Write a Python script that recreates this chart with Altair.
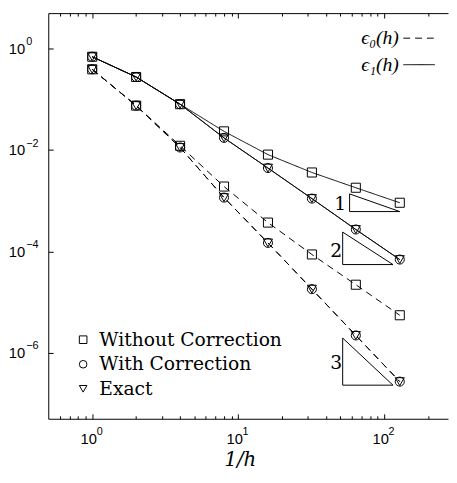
import altair as alt
import pandas as pd

# ---------------- data ----------------
inv_h = [1, 2, 4, 8, 16, 32, 64, 128]

e1_without = [0.69, 0.275, 0.080, 0.0233, 0.0081, 0.0036, 0.0018, 0.00091]
e1_with = [0.69, 0.275, 0.080, 0.0173, 0.0044, 0.0011, 0.00027, 0.000069]
e1_exact = [0.69, 0.275, 0.080, 0.0173, 0.0044, 0.0011, 0.00027, 0.000069]

e0_without = [0.39, 0.075, 0.0121, 0.0019, 0.00037, 0.000087, 0.000022, 0.0000055]
e0_with = [0.39, 0.075, 0.0112, 0.00115, 0.000147, 0.000018, 0.0000022, 0.00000027]
e0_exact = [0.39, 0.075, 0.0112, 0.00115, 0.000147, 0.000018, 0.0000022, 0.00000027]

methods = ["Without Correction", "With Correction", "Exact"]
shapes = ["square", "circle", "triangle-down"]
errors = ["ϵ₀(h)", "ϵ₁(h)"]
dashes = [[7, 5], [1, 0]]

# slope triangles
tri_names = ["1", "2", "3"]
tri_x_left = [58, 52, 52]
tri_x_right = [128, 115, 115]
tri_y_top = [1.36e-3, 2.4e-4, 1.95e-6]
tri_y_bottom = [6.1e-4, 5.5e-5, 2.3e-7]
tri_label_x = [50, 47, 47]
tri_label_y = [8.7e-4, 1.03e-4, 6.4e-7]

# axes
x_domain = [0.5, 274]
y_domain = [5e-8, 5]
x_major = [1, 10, 100]
x_exponents = ["0", "1", "2"]
x_minor = [0.6, 0.7, 0.8, 0.9, 2, 3, 4, 5, 6, 7, 8, 9,
           20, 30, 40, 50, 60, 70, 80, 90, 200]
y_major = [1e-6, 1e-4, 1e-2, 1]
y_exponents = ["−6", "−4", "−2", "0"]
base_label = "10"

# ---------------- tables ----------------
rows = []
series = {
    ("ϵ₁(h)", "Without Correction"): e1_without,
    ("ϵ₁(h)", "With Correction"): e1_with,
    ("ϵ₁(h)", "Exact"): e1_exact,
    ("ϵ₀(h)", "Without Correction"): e0_without,
    ("ϵ₀(h)", "With Correction"): e0_with,
    ("ϵ₀(h)", "Exact"): e0_exact,
}
for (err, meth), vals in series.items():
    for xv, yv in zip(inv_h, vals):
        rows.append({"x": xv, "y": yv, "error": err, "method": meth,
                     "series": err + meth})
df = pd.DataFrame(rows)
df1 = df[df["error"] == errors[1]]
df0 = df[df["error"] == errors[0]]

tri_rows = []
for i, name in enumerate(tri_names):
    verts = [(tri_x_left[i], tri_y_top[i]), (tri_x_left[i], tri_y_bottom[i]),
             (tri_x_right[i], tri_y_bottom[i]), (tri_x_left[i], tri_y_top[i])]
    for k, (vx, vy) in enumerate(verts):
        tri_rows.append({"tri": name, "x": vx, "y": vy, "k": k})
tri_df = pd.DataFrame(tri_rows)
lab_df = pd.DataFrame({"label": tri_names, "x": tri_label_x, "y": tri_label_y})


def label_expr(vals, labels):
    expr = f"'{labels[-1]}'"
    for v, l in reversed(list(zip(vals[:-1], labels[:-1]))):
        expr = f"datum.value < {v * 3!r} ? '{l}' : " + expr
    return expr


xscale = alt.Scale(type="log", domain=x_domain, nice=False)
yscale = alt.Scale(type="log", domain=y_domain, nice=False)
dash_scale = alt.Scale(domain=errors, range=dashes)

# bottom: "10" labels, ticks, domain, title
ax_bottom_major = alt.Axis(
    orient="bottom", values=x_major, labelExpr=f"'{base_label}'",
    tickSize={"expr": "-5"}, labelPadding=30, labelBaseline="alphabetic",
    labelOffset={"expr": "-4"}, labelFontSize=15,
    domain=True, ticks=True,
    title="1/h", titleFont="DejaVu Serif", titleFontStyle="italic",
    titleFontWeight="normal", titleFontSize=20, titleX=195, titleY=48,
    titleAlign="center", titleBaseline="alphabetic", labelFlush=False)
# bottom: exponents
ax_bottom_exp = alt.Axis(
    orient="bottom", values=x_major, labelExpr=label_expr(x_major, x_exponents),
    tickSize={"expr": "0"}, tickOpacity=0, labelPadding=16,
    labelBaseline="alphabetic", labelAlign="left", labelOffset=4,
    labelFontSize=11, domain=False, title=None, labelFlush=False)
ax_bottom_minor = alt.Axis(orient="bottom", values=x_minor, labels=False,
                           tickSize={"expr": "-3"}, domain=False, title=None)
ax_top_major = alt.Axis(orient="top", values=x_major, labels=False,
                        tickSize={"expr": "-5"}, domain=True, title=None)
ax_top_minor = alt.Axis(orient="top", values=x_minor, labels=False,
                        tickSize={"expr": "-3"}, domain=False, title=None)
# left: "10" labels, ticks, domain
ax_left = alt.Axis(orient="left", values=y_major, labelExpr=f"'{base_label}'",
                   tickSize={"expr": "-5"}, labelPadding=29, labelFontSize=15,
                   domain=True, title=None, labelFlush=False)
# left: exponents
ax_left_exp = alt.Axis(orient="left", values=y_major,
                       labelExpr=label_expr(y_major, y_exponents),
                       tickSize={"expr": "0"}, tickOpacity=0, labelPadding=23,
                       labelAlign="left", labelOffset={"expr": "-7"},
                       labelFontSize=11, domain=False, title=None,
                       labelFlush=False)

dash_legend = alt.Legend(
    orient="none", legendX=361, legendY=9, title=None,
    labelFont="Liberation Serif", labelFontStyle="italic", labelFontSize=20,
    labelColor="black", symbolType="stroke", symbolSize=1024,
    symbolStrokeWidth=1, symbolStrokeColor="black", labelAlign="right",
    labelOffset={"expr": "-37"}, rowPadding={"expr": "-4"}, padding=0)

lines1 = alt.Chart(df1).mark_line(color="black", strokeWidth=1).encode(
    x=alt.X("x:Q", scale=xscale, axis=ax_bottom_major),
    y=alt.Y("y:Q", scale=yscale, axis=ax_left),
    detail="series:N",
    strokeDash=alt.StrokeDash("error:N", scale=dash_scale, legend=dash_legend),
    order="x:Q",
)

lines0 = alt.Chart(df0).mark_line(color="black", strokeWidth=1).encode(
    x=alt.X("x:Q", scale=xscale, axis=ax_bottom_exp),
    y=alt.Y("y:Q", scale=yscale, axis=ax_left_exp),
    detail="series:N",
    strokeDash=alt.StrokeDash("error:N", scale=dash_scale, legend=dash_legend),
    order="x:Q",
)

points = alt.Chart(df).mark_point(filled=False, color="black", size=85,
                                  strokeWidth=1, opacity=1).encode(
    x=alt.X("x:Q", scale=xscale, axis=ax_bottom_minor),
    y=alt.Y("y:Q", scale=yscale, axis=None),
    shape=alt.Shape(
        "method:N",
        scale=alt.Scale(domain=methods, range=shapes),
        legend=alt.Legend(
            orient="none", legendX=26, legendY=323, title=None,
            labelFont="DejaVu Serif", labelFontSize=19, labelColor="black",
            labelLimit=400,
            symbolSize=60, symbolStrokeColor="black", symbolStrokeWidth=1,
            symbolFillColor="transparent", labelOffset=7, rowPadding=5,
            padding=0),
    ),
)

triangles = alt.Chart(tri_df).mark_line(color="black", strokeWidth=1).encode(
    x=alt.X("x:Q", scale=xscale, axis=ax_top_major),
    y=alt.Y("y:Q", scale=yscale, axis=None),
    detail="tri:N",
    order="k:Q",
)

tri_labels = alt.Chart(lab_df).mark_text(
    font="DejaVu Serif", fontSize=19, color="black", align="center",
    baseline="middle").encode(
    x=alt.X("x:Q", scale=xscale, axis=ax_top_minor),
    y=alt.Y("y:Q", scale=yscale, axis=None),
    text="label:N",
)

chart = alt.layer(lines1, lines0, points, triangles, tri_labels).resolve_axis(
    x="independent", y="independent"
).properties(
    width=407, height=413,
    autosize=alt.AutoSizeParams(type="none"),
    padding={"left": 41, "top": 1, "right": 1, "bottom": 51},
).configure_view(stroke=None).configure_axis(
    grid=False, domainColor="black", tickColor="black", labelColor="black",
    labelFont="Liberation Sans", labelFontSize=14, domainWidth=1, tickWidth=1,
    titleColor="black",
)

chart.save("out.html", embed_options={"renderer": "svg", "actions": False})
